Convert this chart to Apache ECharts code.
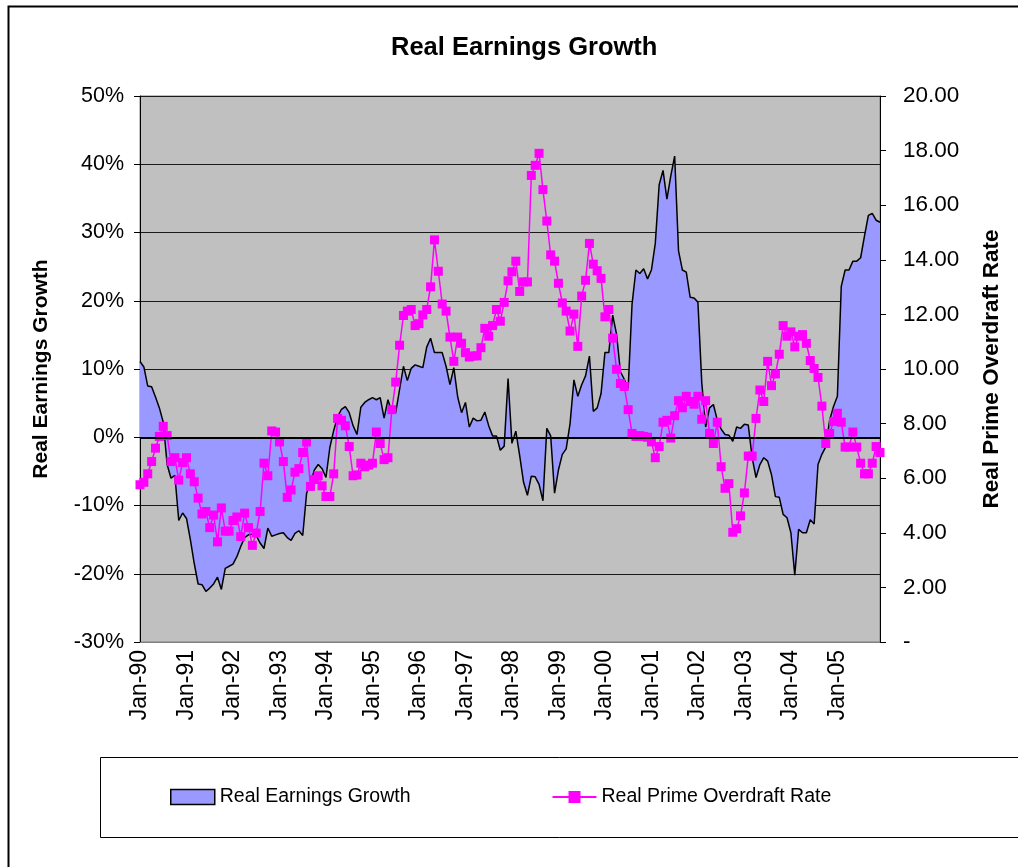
<!DOCTYPE html>
<html><head><meta charset="utf-8">
<script src="https://cdn.jsdelivr.net/npm/echarts@6/dist/echarts.min.js"></script>
<style>html,body{margin:0;padding:0;background:#fff}#c{width:1018px;height:867px}</style>
</head><body><div id="c"></div>
<script>
// ---- data ----
const years = ['90','91','92','93','94','95','96','97','98','99','00','01','02','03','04','05'];
const months = ['Jan','Feb','Mar','Apr','May','Jun','Jul','Aug','Sep','Oct','Nov','Dec'];
// Real Earnings Growth (%), monthly Jan-90 .. Dec-05
const earningsGrowth = [
 11.1,10.3,7.5,7.4,5.9,4.3,2.2,-4.0,-6.0,-5.6,-12.2,-11.1,
 -11.9,-15.0,-18.5,-21.5,-21.6,-22.6,-22.1,-21.5,-20.5,-22.3,-19.2,-18.9,
 -18.6,-17.5,-16.0,-14.7,-14.3,-14.2,-14.4,-15.5,-16.3,-13.3,-14.5,-14.3,
 -14.1,-14.0,-14.7,-15.1,-14.1,-13.7,-14.4,-8.2,-6.8,-4.8,-4.0,-4.6,
 -5.9,-1.5,1.0,3.0,4.1,4.5,3.6,1.7,0.4,4.4,5.1,5.5,
 5.8,5.5,5.8,2.8,5.5,3.6,3.6,7.0,10.4,8.3,10.1,10.6,
 10.4,10.2,13.2,14.5,12.4,12.4,12.4,10.4,7.7,10.2,5.9,3.6,
 5.1,1.5,2.8,2.4,2.5,3.7,1.7,0.2,0.2,-1.9,-1.3,8.6,
 -0.9,0.9,-2.7,-6.6,-8.5,-5.7,-5.8,-6.9,-9.3,1.3,0.2,-8.2,
 -4.8,-2.5,-1.7,2.0,8.4,6.0,7.7,9.0,11.9,3.8,4.3,6.4,
 12.4,12.4,17.9,15.1,9.6,8.5,7.2,19.5,24.5,24.0,24.7,23.2,
 24.5,28.4,37.0,39.1,34.9,38.3,41.2,27.3,24.5,24.2,20.5,20.4,
 19.8,8.0,1.5,4.3,4.8,2.5,1.2,0.4,0.3,-0.6,1.5,1.3,
 1.9,1.8,-3.0,-5.9,-4.0,-3.0,-3.5,-5.5,-8.7,-8.8,-11.3,-11.8,
 -14.0,-20.2,-13.5,-14.0,-14.0,-12.1,-12.7,-4.0,-2.5,-1.4,2.5,4.5,
 6.0,22.1,24.5,24.5,25.8,25.8,26.3,29.5,32.5,32.8,31.8,31.5
];
// Real Prime Overdraft Rate, monthly Jan-90 .. Dec-05
const primeRate = [
 5.76,5.85,6.16,6.61,7.10,7.53,7.90,7.56,6.61,6.75,5.93,6.57,
 6.75,6.16,5.87,5.27,4.69,4.78,4.19,4.65,3.67,4.91,4.06,4.06,
 4.45,4.58,3.86,4.72,4.19,3.54,3.99,4.78,6.55,6.09,7.73,7.69,
 7.33,6.61,5.30,5.57,6.22,6.35,6.94,7.33,5.70,5.95,6.09,5.72,
 5.33,5.33,6.16,8.19,8.12,7.92,7.16,6.09,6.12,6.55,6.42,6.48,
 6.55,7.69,7.27,6.68,6.75,8.51,9.52,10.87,11.96,12.12,12.18,11.59,
 11.66,11.98,12.18,13.01,14.73,13.58,12.38,12.12,11.17,10.28,11.17,10.94,
 10.60,10.44,10.48,10.48,10.78,11.49,11.20,11.59,12.18,11.75,12.44,13.23,
 13.56,13.95,12.84,13.19,13.19,17.09,17.46,17.90,16.57,15.42,14.18,13.95,
 13.14,12.42,12.12,11.39,12.01,10.83,12.67,13.25,14.60,13.84,13.60,13.32,
 11.91,12.18,11.13,9.99,9.47,9.36,8.51,7.64,7.53,7.56,7.53,7.50,
 7.33,6.75,7.16,8.05,8.12,7.47,8.29,8.84,8.58,9.00,8.81,8.71,
 9.00,8.16,8.84,7.64,7.27,8.05,6.42,5.63,5.80,4.02,4.15,4.62,
 5.46,6.81,6.81,8.19,9.23,8.81,10.28,9.39,9.82,10.54,11.59,11.20,
 11.36,10.81,11.20,11.26,10.94,10.31,10.02,9.69,8.64,7.27,7.64,8.08,
 8.38,8.05,7.14,7.14,7.69,7.14,6.55,6.16,6.16,6.55,7.16,6.94
];
const leftTicks = {min:-30, max:50, interval:10};
const rightTicks = {min:0, max:20, interval:2};

const categories = [];
years.forEach(y => months.forEach(m => categories.push(m + '-' + y)));

const FONT = 'Liberation Sans, Arial, sans-serif';
const chart = echarts.init(document.getElementById('c'), null, {renderer:'canvas'});
chart.setOption({
  animation:false,
  backgroundColor:'#ffffff',
  textStyle:{fontFamily:FONT, color:'#000'},
  title:{text:'Real Earnings Growth', left:386, top:30,
    textStyle:{fontFamily:FONT, fontSize:25.5, fontWeight:'bold', color:'#000'}},
  grid:{left:140, right:138, top:96, bottom:225, show:true, backgroundColor:'#C0C0C0', borderColor:'#808080', borderWidth:1},
  legend:{
    left:165, top:782, itemGap:141, itemWidth:44, itemHeight:15,
    textStyle:{fontFamily:FONT, fontSize:19.5, color:'#000'},
    data:[
      {name:'Real Earnings Growth', icon:'rect', itemStyle:{color:'#9999FF', borderColor:'#000', borderWidth:1.5}},
      {name:'Real Prime Overdraft Rate'}
    ]
  },
  xAxis:{
    type:'category', data:categories, boundaryGap:false,
    axisLine:{onZero:false, lineStyle:{color:'#808080'}},
    axisTick:{show:false},
    axisLabel:{interval:11, rotate:90, fontSize:23, color:'#000', fontFamily:FONT, margin:8},
    splitLine:{show:false}
  },
  yAxis:[
    {type:'value', min:leftTicks.min, max:leftTicks.max, interval:leftTicks.interval, position:'left',
     name:'Real Earnings Growth', nameLocation:'middle', nameGap:88,
     nameTextStyle:{fontFamily:FONT, fontSize:21, fontWeight:'bold', color:'#000'},
     axisLine:{show:true, lineStyle:{color:'#000', width:1}},
     axisTick:{show:true, length:6, lineStyle:{color:'#000'}},
     axisLabel:{formatter:'{value}%', fontSize:21.5, color:'#000', fontFamily:FONT, margin:16},
     splitLine:{show:true, lineStyle:{color:'#1a1a1a', width:1}}},
    {type:'value', min:rightTicks.min, max:rightTicks.max, interval:rightTicks.interval, position:'right',
     name:'Real Prime Overdraft Rate', nameLocation:'middle', nameGap:100, nameRotate:90,
     nameTextStyle:{fontFamily:FONT, fontSize:22.5, fontWeight:'bold', color:'#000'},
     axisLine:{show:true, lineStyle:{color:'#000', width:1}},
     axisTick:{show:true, length:6, lineStyle:{color:'#000'}},
     axisLabel:{formatter:v => v === 0 ? '-' : v.toFixed(2), fontSize:22.5, color:'#000', fontFamily:FONT, margin:23},
     splitLine:{show:false}}
  ],
  series:[
    {name:'Real Earnings Growth', type:'line', yAxisIndex:0, data:earningsGrowth,
     symbol:'none', lineStyle:{color:'#000', width:1.5},
     itemStyle:{color:'#9999FF'},
     areaStyle:{color:'#9999FF', opacity:1},
     markLine:{silent:true, symbol:'none', label:{show:false}, lineStyle:{color:'#000', width:2, type:'solid'},
       data:[{yAxis:0}]},
     z:2},
    {name:'Real Prime Overdraft Rate', type:'line', yAxisIndex:1, data:primeRate,
     symbol:'rect', symbolSize:9, showAllSymbol:true,
     lineStyle:{color:'#FF00FF', width:1.5},
     itemStyle:{color:'#FF00FF'},
     z:3}
  ],
  graphic:[
    {type:'rect', left:6, top:4, shape:{width:1100, height:1000}, style:{fill:null, stroke:'#000', lineWidth:2}, silent:true, z:-1},
    {type:'rect', left:98, top:755, shape:{width:920, height:80}, style:{fill:null, stroke:'#000', lineWidth:1}, silent:true}
  ]
});
</script>
</body></html>
